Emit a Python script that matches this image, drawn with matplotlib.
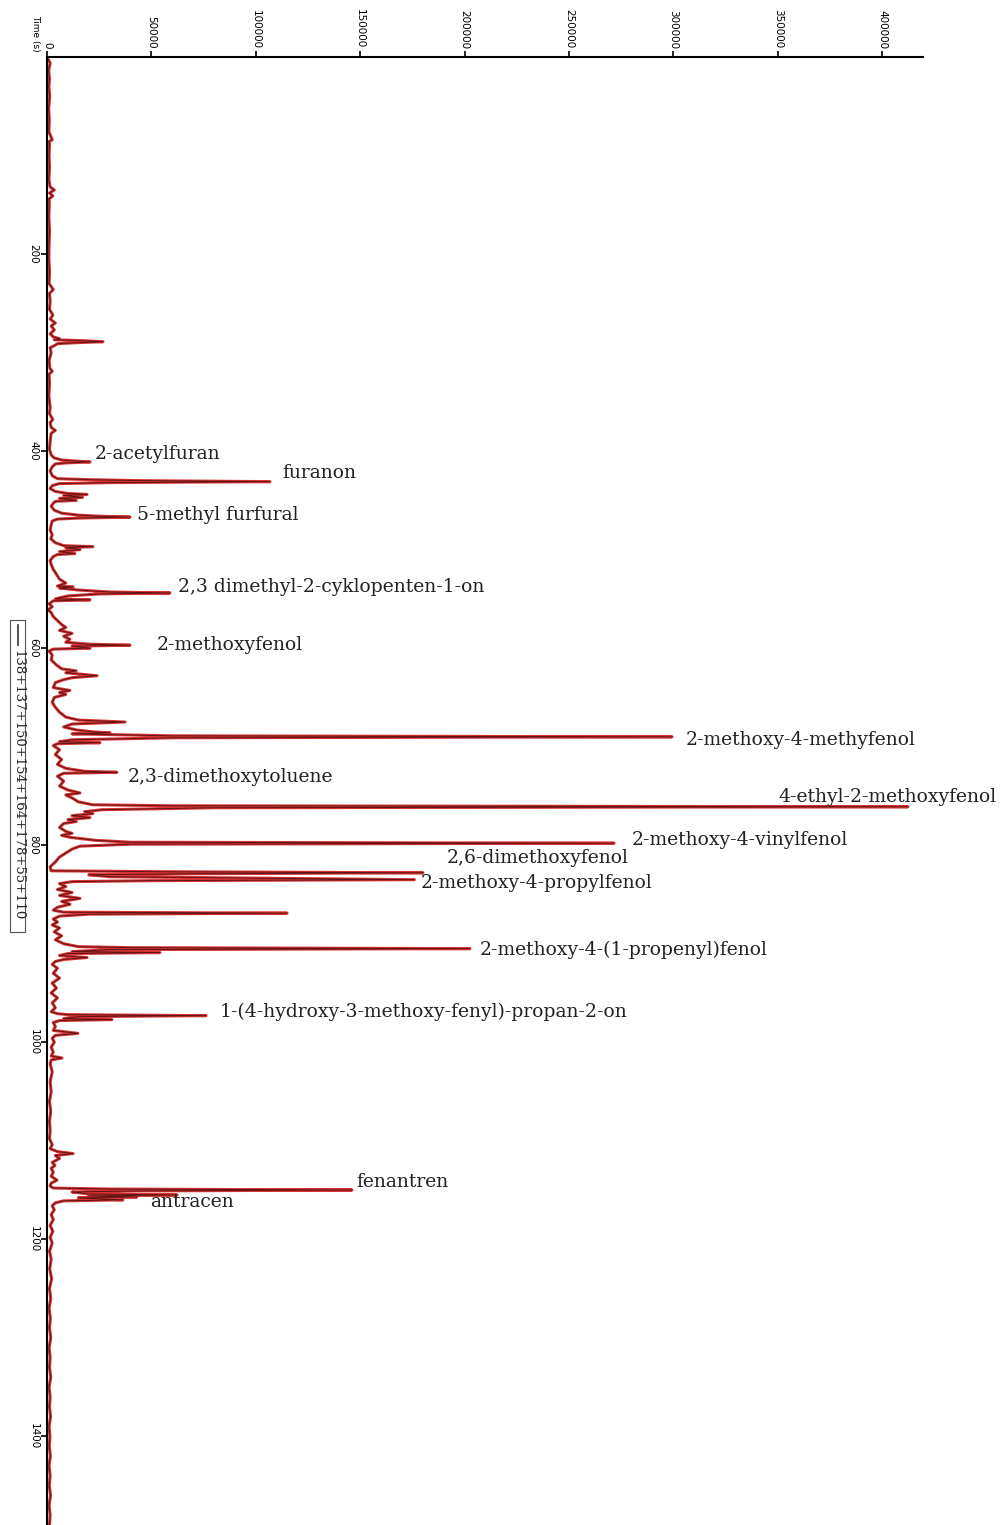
import matplotlib
matplotlib.use("Agg")
import matplotlib.pyplot as plt
from matplotlib.patches import Rectangle
from matplotlib.lines import Line2D

# summed ion trace: (retention time [s], abundance)
trace = [
    (0, 0), (6, 1500), (14, 800), (22, 1200), (30, 900), (40, 1300), (52, 800),
    (64, 1100), (76, 900), (84, 2500), (86, 900), (88, 1200), (100, 1000),
    (112, 1200), (124, 900), (132, 1500), (135, 3500), (138, 1200), (141, 2800),
    (144, 1000), (150, 1100), (162, 900), (176, 1200), (190, 1000), (204, 900),
    (218, 1200), (230, 1000), (236, 3000), (240, 1200), (248, 1500), (256, 1200),
    (262, 2800), (266, 1500), (270, 4000), (273, 2000), (277, 3500), (281, 1500),
    (284, 3000), (286, 6000), (287, 3500), (288, 18000), (289, 26800),
    (290, 14000), (291, 5000), (293, 3500), (295, 1500), (300, 2000),
    (308, 1000), (316, 1400), (319, 2500), (322, 1000), (332, 1200), (344, 900),
    (356, 1500), (362, 1200), (368, 2800), (371, 1500), (376, 2000), (379, 4000),
    (382, 2000), (390, 1500), (398, 1200), (404, 2000), (407, 3500),
    (409, 7000), (410, 13000), (411, 20600), (412, 9000), (413, 4000),
    (416, 2500), (420, 1500), (425, 2500), (428, 5000), (429, 20000),
    (430, 45000), (431, 106800), (432, 30000), (433, 6000), (435, 2500),
    (438, 1500), (441, 4000), (443, 10000), (444, 19200), (445, 8000),
    (447, 17000), (448, 6000), (450, 14000), (451, 4000), (453, 3000),
    (456, 2000), (460, 3500), (463, 7000), (465, 15000), (466, 24000),
    (467, 39800), (468, 15000), (469, 5000), (471, 2500), (475, 2000),
    (480, 1500), (485, 2500), (489, 1800), (493, 4000), (496, 8000),
    (497, 22000), (498, 9000), (500, 15800), (502, 6000), (504, 13400),
    (505, 5000), (507, 3000), (511, 1500), (515, 2000), (520, 3000),
    (525, 4500), (530, 6000), (534, 9000), (537, 5000), (538, 12500),
    (539, 6000), (541, 15000), (543, 30000), (544, 58900), (545, 25000),
    (547, 10000), (550, 4000), (551, 20600), (552, 3000), (555, 1000),
    (558, 2500), (561, 500), (564, 2000), (568, 3000), (572, 5000),
    (576, 7000), (579, 9000), (582, 6000), (585, 12000), (588, 8000),
    (591, 11000), (594, 9000), (596, 20000), (597, 39800), (598, 12000),
    (600, 20600), (601, 3000), (603, 1000), (607, 2500), (612, 2000),
    (617, 4500), (621, 7000), (623, 14000), (625, 9000), (628, 24000),
    (630, 12000), (632, 8000), (635, 4000), (640, 3000), (643, 11000),
    (645, 6000), (647, 9000), (650, 3500), (655, 2500), (660, 4000),
    (665, 6000), (670, 9000), (673, 15000), (675, 37400), (677, 12000),
    (680, 8000), (683, 14000), (685, 22000), (686, 30200), (687, 12000),
    (689, 60000), (690, 299400), (691, 60000), (693, 12000), (695, 6000),
    (696, 25400), (697, 5000), (699, 3000), (703, 6000), (708, 4000),
    (713, 7000), (718, 5000), (722, 9000), (725, 18000), (726, 33500),
    (727, 8000), (730, 5000), (735, 8000), (740, 6000), (744, 10000),
    (747, 15800), (749, 9000), (752, 12000), (756, 15000), (759, 22000),
    (760, 60000), (761, 412400), (762, 80000), (764, 26300), (766, 18000),
    (768, 22000), (770, 12000), (772, 20600), (774, 10000), (776, 14000),
    (778, 8000), (782, 6000), (786, 9000), (788, 12000), (790, 7000),
    (792, 11000), (795, 23000), (797, 40000), (798, 271600), (799, 40000),
    (801, 15800), (804, 12000), (808, 9000), (812, 6000), (817, 4000),
    (822, 1500), (826, 2000), (827, 60000), (828, 180100), (829, 70000),
    (830, 20000), (832, 30000), (835, 176000), (836, 50000), (837, 12000),
    (839, 6000), (842, 9000), (845, 5000), (848, 12000), (851, 6000),
    (854, 15800), (857, 7000), (860, 11000), (863, 5000), (866, 3000),
    (868, 8000), (869, 115000), (870, 20000), (872, 6000), (875, 3000),
    (878, 5000), (881, 2500), (884, 6000), (888, 3500), (892, 7000),
    (896, 4000), (900, 8000), (903, 15000), (904, 40000), (905, 202600),
    (906, 30000), (908, 12000), (909, 54100), (910, 10000), (912, 6000),
    (914, 19200), (916, 8000), (918, 4000), (921, 2500), (925, 5000),
    (930, 3000), (935, 6000), (940, 2500), (945, 4500), (950, 2000),
    (955, 5000), (960, 2500), (965, 4000), (969, 2000), (971, 5000),
    (972, 10000), (973, 76200), (974, 15000), (976, 8000), (977, 31100),
    (978, 6000), (980, 3000), (984, 4000), (988, 3000), (991, 14800),
    (993, 4000), (996, 2500), (1000, 3500), (1005, 2000), (1010, 3000),
    (1014, 2000), (1016, 7200), (1018, 2000), (1022, 1500), (1030, 2500),
    (1040, 1500), (1050, 2000), (1060, 1200), (1070, 1800), (1080, 1200),
    (1090, 1500), (1098, 1200), (1104, 2500), (1108, 1500), (1111, 5000),
    (1113, 12500), (1115, 4000), (1118, 6000), (1122, 2500), (1125, 3800),
    (1128, 2000), (1132, 3000), (1136, 2000), (1140, 4800), (1143, 2000),
    (1146, 1500), (1148, 3000), (1149, 30000), (1150, 146100), (1151, 40000),
    (1152, 12000), (1154, 20000), (1155, 62300), (1156, 20000),
    (1157, 43100), (1158, 15000), (1159, 25000), (1160, 36400),
    (1161, 8000), (1163, 4000), (1166, 2500), (1170, 3500), (1175, 2000),
    (1180, 3000), (1186, 1500), (1192, 2800), (1198, 1500), (1204, 2500),
    (1212, 1200), (1220, 2000), (1230, 1300), (1240, 2200), (1250, 1200),
    (1260, 1800), (1270, 1000), (1280, 1600), (1290, 1200), (1300, 1800),
    (1310, 1000), (1320, 1500), (1330, 1200), (1340, 1800), (1350, 1000),
    (1360, 1500), (1370, 1200), (1380, 1700), (1390, 1000), (1400, 1400),
    (1410, 1100), (1420, 1600), (1430, 1000), (1440, 1500), (1450, 1100),
    (1460, 1700), (1470, 1000), (1480, 1500), (1490, 1200),
]
time_s = [p[0] for p in trace]
counts = [p[1] for p in trace]

# identified compounds: name, retention time of the peak tip
compounds = [
    "2-acetylfuran", "furanon", "5-methyl furfural",
    "2,3 dimethyl-2-cyklopenten-1-on", "2-methoxyfenol",
    "2-methoxy-4-methyfenol", "2,3-dimethoxytoluene",
    "4-ethyl-2-methoxyfenol", "2-methoxy-4-vinylfenol",
    "2,6-dimethoxyfenol", "2-methoxy-4-propylfenol",
    "2-methoxy-4-(1-propenyl)fenol",
    "1-(4-hydroxy-3-methoxy-fenyl)-propan-2-on",
    "fenantren", "antracen",
]
peak_times = [411, 431, 467, 544, 597, 690, 726, 761, 798, 828, 835, 905,
              973, 1150, 1157]
# label offset from the peak tip, in pixels
label_offsets = [(5, 8), (12, 9), (7, 2), (8, 6), (27, 0), (14, -3),
                 (11, -5), (-130, 10), (18, 3), (24, 15), (6, -3), (10, -1),
                 (14, 4), (4, 8), (13, -5)]

x_ticks = [0, 50000, 100000, 150000, 200000, 250000, 300000, 350000, 400000]
y_ticks = [200, 400, 600, 800, 1000, 1200, 1400]
legend_label = "138+137+150+154+164+178+55+110"

W, H = 1001, 1525
fig = plt.figure(figsize=(W / 100, H / 100), dpi=100)
ax = fig.add_axes([47 / W, 0, (923 - 47) / W, (H - 57) / H])

red = "#d81e1e"
dark = "#5c1414"
# thick red trace with a thin dark line on top
ax.plot(counts, time_s, color=red, lw=2.2, alpha=0.9)
ax.plot(counts, time_s, color=dark, lw=0.7)

ax.set_xlim(0, 419600)
ax.set_ylim(1490, 0)

ax.xaxis.tick_top()
ax.set_xticks(x_ticks)
ax.set_xticklabels([str(v) for v in x_ticks], rotation=-90, fontsize=7.5,
                   va="bottom", ha="center")
ax.set_yticks(y_ticks)
ax.set_yticklabels([str(v) for v in y_ticks], rotation=-90, fontsize=7.5,
                   va="center", ha="right")
ax.tick_params(axis="both", direction="out", length=4.5, width=1.2, pad=1.5)
for side in ["right", "bottom"]:
    ax.spines[side].set_visible(False)
for side in ["left", "top"]:
    ax.spines[side].set_linewidth(1.5)
    ax.spines[side].set_zorder(3)

for name, t, (dx, dy) in zip(compounds, peak_times, label_offsets):
    h = counts[time_s.index(t)]
    ax.annotate(name, xy=(h, t), xytext=(dx, dy), textcoords="offset pixels",
                ha="left", va="center", fontsize=13.5, family="DejaVu Serif",
                color="#222222", annotation_clip=False)

fig.text(36 / W, 1 - 33 / H, "Time (s)", rotation=-90, fontsize=6.5,
         ha="center", va="center")

# legend box along the left edge
fig.patches.append(Rectangle((10 / W, 1 - 932 / H), 15 / W, 312 / H,
                             transform=fig.transFigure, fill=False,
                             ec="#555555", lw=0.8))
fig.lines.append(Line2D([18 / W, 18 / W], [1 - 625 / H, 1 - 645 / H],
                        transform=fig.transFigure, color="#333333", lw=1.2))
fig.text(18 / W, 1 - 650 / H, legend_label, rotation=-90, fontsize=9.5,
         family="DejaVu Serif", ha="center", va="top", color="#222222")

fig.savefig("out.png", dpi=100)
